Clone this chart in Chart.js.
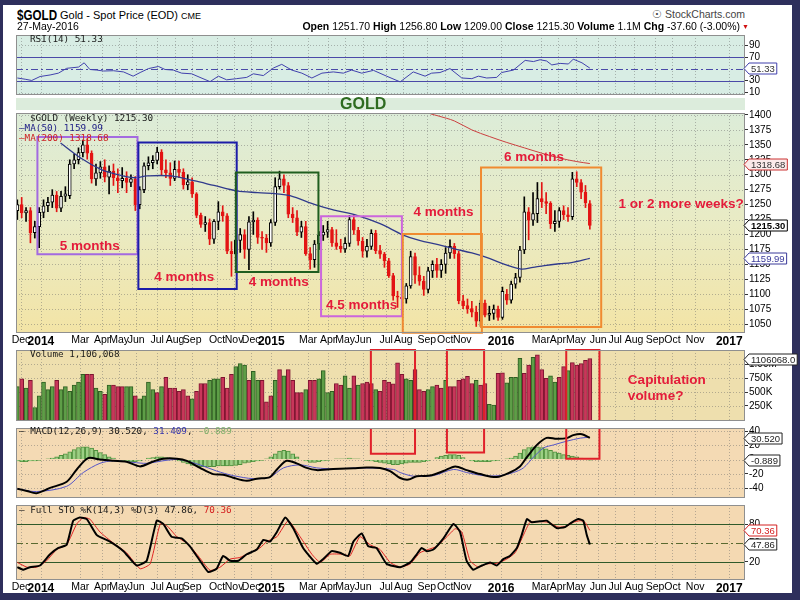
<!DOCTYPE html>
<html>
<head>
<meta charset="utf-8">
<script src="https://cdn.jsdelivr.net/npm/chart.js@4.4.1/dist/chart.umd.min.js"></script>
<style>
  html, body { margin: 0; padding: 0; }
  body { width: 800px; height: 600px; position: relative; overflow: hidden; background: #2e2f5c; font-family: "Liberation Sans", Arial, sans-serif; color: #000; }
  #sheet { position: absolute; left: 3px; top: 5px; width: 789px; height: 588px; background: #fff; }
  canvas { position: absolute; left: 0; }
  .t { position: absolute; white-space: nowrap; line-height: 1; }
  .leg { position: absolute; white-space: nowrap; line-height: 1; font-family: "DejaVu Sans Mono", monospace; font-size: 9.3px; color: #1a1a1a; }
</style>
</head>
<body>
<div id="sheet"></div>
<div style="position:absolute;left:16px;top:98px;width:729px;height:12px;background:#dcecdc"></div>

<canvas id="rsiChart"></canvas>
<canvas id="priceChart"></canvas>
<canvas id="volChart"></canvas>
<canvas id="macdChart"></canvas>
<canvas id="stoChart"></canvas>

<!-- 头部信息 -->
<div class="t" style="left:17px;top:8px;font-size:14px;font-weight:bold;transform:scaleX(0.83);transform-origin:left top">$GOLD</div>
<div class="t" style="left:60px;top:10px;font-size:11px">Gold - Spot Price (EOD) <span style="font-size:9px">CME</span></div>
<div class="t" style="left:17px;top:21px;font-size:10.5px">27-May-2016</div>
<div class="t" style="right:55px;top:9px;font-size:10.5px;color:#444">&#9737; StockCharts.com</div>
<div class="t" style="right:60px;top:21px;font-size:10.5px"><b>Open</b> 1251.70 <b>High</b> 1256.80 <b>Low</b> 1209.00 <b>Close</b> 1215.30 <b>Volume</b> 1.1M <b>Chg</b> -37.60 (-3.00%)</div>
<div class="t" style="left:742px;top:23px;font-size:7px;color:#d01010">&#9660;</div>
<div class="t" style="left:340px;top:96px;font-size:16px;font-weight:bold;color:#2e6b20">GOLD</div>

<!-- 面板图例 -->
<div class="leg" style="left:30px;top:34px">RSI(14) 51.33</div>
<div class="leg" style="left:30px;top:113px">$GOLD (Weekly) 1215.30</div>
<div class="leg" style="left:19px;top:123px;color:#222288">&#8212;MA(50) 1159.99</div>
<div class="leg" style="left:19px;top:133px;color:#cc2222">&#8212;MA(200) 1318.68</div>
<div class="leg" style="left:30px;top:349px">Volume 1,106,068</div>
<div class="leg" style="left:19px;top:426px">&#8212; MACD(12,26,9) 30.520, <span style="color:#3333aa">31.409</span>, <span style="color:#7fae6a">-0.889</span></div>
<div class="leg" style="left:19px;top:505px">&#8212; Full STO %K(14,3) %D(3) 47.86, <span style="color:#d42020">70.36</span></div>

<script>
// x轴刻度（周序号，0 = 2013-11-22）
const tickLabels = ["Dec", "2014", "Mar", "Apr", "May", "Jun", "Jul", "Aug", "Sep", "Oct", "Nov", "Dec", "2015", "Mar", "Apr", "May", "Jun", "Jul", "Aug", "Sep", "Oct", "Nov", "2016", "Mar", "Apr", "May", "Jun", "Jul", "Aug", "Sep", "Oct", "Nov", "2017"];
const tickWeeks = [0.85, 5.4, 14.4, 19.4, 23.3, 27.2, 32, 36.1, 40, 45.7, 49.6, 53.5, 58.1, 66.5, 71.1, 75, 79.1, 84.4, 88.3, 93.7, 97.9, 101.8, 110.7, 119.8, 123.7, 127.8, 132.9, 136.8, 141.1, 145.9, 149.9, 155.1, 162.9];

// 周K线
const opens = [1240, 1250, 1236, 1240, 1203, 1213, 1237, 1248, 1254, 1266, 1244, 1264, 1265, 1318, 1325, 1337, 1350, 1336, 1293, 1303, 1313, 1296, 1306, 1295, 1290, 1294, 1287, 1293, 1250, 1275, 1315, 1320, 1324, 1338, 1308, 1303, 1294, 1309, 1304, 1283, 1288, 1268, 1232, 1217, 1220, 1192, 1222, 1238, 1231, 1172, 1168, 1190, 1200, 1175, 1221, 1224, 1195, 1194, 1186, 1220, 1280, 1293, 1282, 1234, 1228, 1204, 1213, 1168, 1158, 1184, 1199, 1204, 1208, 1186, 1180, 1176, 1185, 1225, 1207, 1189, 1172, 1180, 1202, 1173, 1167, 1156, 1131, 1097, 1095, 1092, 1114, 1163, 1132, 1122, 1108, 1139, 1150, 1140, 1150, 1169, 1180, 1168, 1089, 1081, 1076, 1070, 1055, 1085, 1065, 1068, 1075, 1061, 1100, 1090, 1117, 1128, 1174, 1238, 1224, 1235, 1260, 1255, 1252, 1218, 1222, 1240, 1233, 1230, 1293, 1287, 1271, 1251.7];
const highs = [1258, 1262, 1245, 1245, 1222, 1245, 1258, 1262, 1275, 1272, 1272, 1280, 1325, 1335, 1345, 1358, 1360, 1340, 1318, 1322, 1325, 1315, 1318, 1310, 1312, 1305, 1300, 1297, 1280, 1320, 1330, 1332, 1346, 1342, 1325, 1320, 1323, 1323, 1310, 1300, 1295, 1270, 1236, 1230, 1226, 1225, 1255, 1248, 1235, 1188, 1196, 1210, 1208, 1230, 1238, 1228, 1205, 1200, 1225, 1295, 1306, 1300, 1287, 1245, 1240, 1222, 1222, 1178, 1190, 1205, 1215, 1222, 1212, 1208, 1192, 1195, 1232, 1232, 1212, 1195, 1192, 1208, 1207, 1182, 1170, 1160, 1135, 1105, 1100, 1118, 1172, 1169, 1146, 1130, 1145, 1156, 1160, 1158, 1178, 1191, 1185, 1172, 1098, 1092, 1088, 1080, 1090, 1090, 1080, 1082, 1080, 1112, 1108, 1122, 1135, 1180, 1263, 1245, 1270, 1287, 1287, 1270, 1255, 1240, 1245, 1248, 1245, 1304, 1305, 1292, 1282, 1256.8];
const lows = [1225, 1228, 1222, 1186, 1194, 1178, 1228, 1238, 1245, 1238, 1238, 1255, 1260, 1310, 1318, 1330, 1326, 1286, 1282, 1294, 1288, 1268, 1282, 1270, 1278, 1270, 1280, 1240, 1243, 1270, 1308, 1310, 1318, 1300, 1295, 1282, 1290, 1295, 1276, 1275, 1262, 1228, 1212, 1205, 1183, 1185, 1208, 1222, 1168, 1130, 1150, 1170, 1160, 1141, 1200, 1185, 1175, 1170, 1180, 1215, 1276, 1270, 1228, 1220, 1198, 1195, 1165, 1142, 1145, 1175, 1190, 1195, 1180, 1175, 1170, 1170, 1180, 1200, 1182, 1162, 1162, 1175, 1168, 1160, 1145, 1128, 1090, 1078, 1077, 1085, 1110, 1118, 1115, 1098, 1102, 1128, 1128, 1128, 1135, 1160, 1160, 1084, 1076, 1068, 1062, 1046, 1046, 1062, 1056, 1058, 1056, 1058, 1083, 1085, 1110, 1120, 1168, 1191, 1215, 1220, 1245, 1235, 1210, 1205, 1212, 1225, 1222, 1225, 1280, 1260, 1245, 1209];
const closes = [1250, 1236, 1240, 1203, 1213, 1237, 1248, 1254, 1266, 1244, 1264, 1268, 1318, 1325, 1337, 1350, 1336, 1293, 1303, 1313, 1296, 1306, 1295, 1290, 1294, 1287, 1293, 1250, 1275, 1315, 1320, 1324, 1338, 1308, 1303, 1294, 1309, 1304, 1283, 1288, 1268, 1232, 1217, 1220, 1192, 1222, 1238, 1231, 1172, 1168, 1190, 1200, 1175, 1221, 1224, 1195, 1194, 1186, 1220, 1280, 1293, 1282, 1234, 1228, 1204, 1213, 1168, 1158, 1184, 1199, 1204, 1208, 1186, 1180, 1176, 1185, 1225, 1207, 1189, 1172, 1180, 1202, 1173, 1167, 1156, 1131, 1097, 1095, 1092, 1114, 1163, 1132, 1122, 1108, 1139, 1150, 1140, 1150, 1169, 1180, 1168, 1089, 1081, 1076, 1070, 1055, 1085, 1065, 1068, 1075, 1061, 1105, 1090, 1117, 1128, 1174, 1238, 1224, 1235, 1260, 1255, 1252, 1218, 1222, 1240, 1233, 1230, 1293, 1287, 1271, 1253, 1215.3];

// 移动平均线
const ma50Weeks = [9.9, 14.5, 19.1, 22.1, 26.7, 29.7, 35.1, 40.4, 45, 50.2, 55, 59.4, 62.4, 68.5, 73, 77.7, 83, 88.3, 92, 96.3, 100, 104, 108, 111.5, 115.3, 118, 120.6, 124, 126.8, 131];
const ma50Values = [1353, 1328, 1309, 1302, 1295, 1298, 1298, 1290, 1282, 1273, 1270, 1268, 1265, 1249, 1240, 1232, 1218, 1199, 1190, 1183, 1176, 1169, 1160, 1150, 1142, 1145, 1148, 1151, 1153, 1159.99];
const ma200Weeks = [94.5, 96.5, 100, 104, 108, 112, 116, 120, 124, 128, 131];
const ma200Values = [1402, 1398, 1390, 1375, 1364, 1354, 1345, 1336, 1328, 1322, 1318.68];

// 成交量 (g = 上涨, r = 下跌)
const volumes = [600000, 740000, 573000, 712000, 223000, 433000, 683000, 545000, 600000, 712000, 545000, 600000, 517000, 628000, 683000, 823000, 823000, 823000, 573000, 517000, 462000, 628000, 628000, 600000, 600000, 600000, 600000, 433000, 378000, 433000, 683000, 545000, 490000, 600000, 767000, 573000, 573000, 517000, 545000, 433000, 378000, 517000, 657000, 657000, 712000, 740000, 740000, 767000, 573000, 823000, 962000, 1017000, 990000, 712000, 878000, 712000, 712000, 323000, 433000, 712000, 907000, 795000, 907000, 712000, 490000, 490000, 545000, 712000, 712000, 740000, 890000, 490000, 517000, 657000, 628000, 795000, 573000, 795000, 628000, 657000, 683000, 657000, 545000, 517000, 712000, 683000, 650000, 1028000, 823000, 740000, 712000, 907000, 545000, 517000, 545000, 600000, 628000, 573000, 712000, 600000, 600000, 712000, 740000, 785000, 657000, 712000, 628000, 657000, 278000, 267000, 840000, 850000, 667000, 767000, 767000, 1112000, 840000, 990000, 1128000, 1173000, 907000, 751000, 795000, 683000, 767000, 962000, 890000, 1034000, 990000, 1017000, 1073000, 1106068];
const volumeDirs = ("grgrgggggr" + "ggggggrrgg" + "rgrrrggrgg" + "ggrgrrrrrr" + "grrrgggrrr" + "gggrggrrrg" + "rgrrrrgrrg" + "gggrrggrgr" + "rrgrrrrrrg" + "grrrggrrgr" + "rrrrrgrrgg" + "rrggggrrgr" + "rrggrrgrrr" + "rr").split("");

// RSI(14)
const rsiWeeks = [0, 1.8, 3.3, 5.2, 7.5, 9.4, 11.3, 14, 15.3, 16.6, 18.2, 19.7, 22, 24.3, 26.5, 28.1, 30, 32.3, 33.8, 35.7, 37.6, 39.9, 41.8, 44.1, 46, 47.9, 50.2, 52.5, 54, 56.3, 58.6, 60.5, 62.8, 65.1, 67.4, 69.7, 72.3, 74.6, 76.5, 78.8, 81.5, 84.5, 87.6, 90.6, 93.3, 94.8, 96.7, 99, 101.7, 104, 105.5, 107.4, 109.7, 110.8, 113.5, 116.2, 118.1, 119.6, 121.1, 122.3, 124.2, 126.1, 127.2, 129.2, 131];
const rsiValues = [34.6, 32.5, 30.4, 37.1, 39.7, 42.8, 51, 53.1, 60.3, 49, 48, 46.4, 46.9, 44.9, 37.7, 43.8, 50.5, 54.1, 49, 48, 42.8, 41.7, 35.6, 28.4, 37.7, 31.5, 33.5, 35.6, 41.7, 38.7, 51.5, 57.7, 48, 42.8, 34.6, 42.8, 44.9, 42.8, 48, 42.8, 47.5, 37.7, 28, 44.9, 37.7, 42.8, 43.8, 50.5, 34.6, 33.5, 37.7, 34.6, 35.6, 43.8, 48, 64.4, 62.4, 65.5, 63.4, 56.7, 59.3, 58.3, 66.5, 60.3, 51.33];

// MACD(12,26,9)
const macdWeeks = [0, 2.2, 4.4, 7.5, 11.3, 13.6, 16.2, 18.9, 22, 25, 28.1, 31.1, 33.4, 36.5, 38.8, 41.8, 44.8, 47.1, 49.4, 52.5, 54.8, 57.8, 59.4, 61.6, 63.9, 66.2, 68.5, 70.8, 73.8, 76.9, 79.9, 83, 85.3, 87.6, 89.5, 91.4, 94.4, 97.5, 100.2, 102.8, 105.9, 109.7, 112.7, 115, 116.6, 118.9, 121.1, 123.4, 125.7, 127.2, 129.2, 131];
const macdValues = [-40.9, -43.9, -47, -39.6, -31, -13.8, 2.1, 0, -1.7, -3.1, -9.5, -2.6, 1.3, 1.3, -1.7, -11.6, -20.3, -21.1, -25.4, -29.7, -26.7, -24.5, -13.8, -1.7, -5.2, -11.6, -14.7, -13.8, -12.9, -12.1, -11.2, -11.6, -16, -25.8, -28, -23.2, -22.4, -16, -9.5, -14.7, -20.3, -24.5, -18.1, -9.5, 3.4, 20.6, 30.5, 29.2, 30.1, 34.3, 35.6, 30.52];
const signalWeeks = [0, 4.4, 11.3, 15.1, 18.9, 22, 26.5, 29.6, 34.2, 37.2, 41.8, 45.6, 49.4, 54, 57.8, 60.9, 64.7, 68.5, 72.3, 79.9, 86.1, 87.6, 90.6, 95.2, 99.8, 102.8, 106.6, 110.4, 113.5, 115.8, 118.1, 120.4, 122.7, 125.7, 128.8, 131];
const signalValues = [-40.9, -44.8, -37.4, -18.1, -5.2, -1.7, -3.9, -5.2, -0.9, 0, -7.4, -16, -22.4, -26.7, -24.5, -11.6, -7.4, -11.6, -12.9, -11.6, -13.8, -18.1, -23.2, -22.4, -13.8, -18.1, -22.4, -22.4, -18.1, -11.6, 3.4, 16.3, 20.6, 25.8, 30.1, 31.409];
const histValues = [-2, -3, -3, -2, -2, -1, 0, 1, 2, 4, 6, 8, 11, 14, 17, 18, 18, 16, 13, 10, 7, 4, 2, 0, -1, -2, -3, -3, -2, 0, 2, 3, 4, 4, 3, 2, 0, -2, -4, -6, -8, -9, -10, -10, -10, -10, -9, -9, -9, -9, -8, -7, -5, -4, -3, -2, -1, 1, 4, 8, 12, 13, 12, 8, 4, 0, -2, -4, -4, -3, -2, -1, 0, 1, 1, 1, 2, 1, 1, 0, -1, -2, -3, -4, -5, -6, -7, -7, -6, -5, -4, -4, -4, -3, -2, 0, 3, 5, 6, 7, 7, 6, 3, 0, -2, -3, -3, -3, -3, -2, -1, 0, 1, 2, 5, 9, 14, 17, 18, 18, 17, 15, 13, 11, 9, 7, 6, 5, 4, 2, 1, -0.889];

// Full STO
const stoKWeeks = [0, 1.4, 2.9, 5.2, 7.5, 9.4, 11.3, 12.8, 14.3, 15.9, 18.2, 21.2, 24.3, 27.3, 29.6, 31.9, 33.4, 35.3, 37.6, 39.5, 41.8, 43.7, 45.6, 47.1, 48.7, 50.6, 52.5, 54.8, 56.3, 57.8, 59.4, 61.3, 63.2, 65.4, 68.5, 70, 71.9, 73.8, 75.7, 76.9, 78.8, 80.3, 82.2, 84.5, 87.6, 89.9, 91.4, 92.5, 93.7, 95.2, 97.5, 99.8, 101.3, 102.8, 104.3, 106.3, 108.2, 109.7, 111.2, 112.7, 114.3, 115.4, 116.6, 117.7, 119.6, 121.1, 123.4, 125.3, 126.9, 128.4, 129.5, 130.3, 131];
const stoKValues = [11.5, 7.5, 11.5, 14.2, 32.2, 42.3, 47.5, 86, 91, 88.5, 62.9, 52.6, 37.2, 14.2, 21.8, 86, 80.8, 60.3, 57.7, 44.9, 21.8, 3.8, 9, 29.5, 21.8, 21.8, 32.2, 39.8, 55.2, 52.6, 68, 91, 73.1, 42.3, 16.8, 24.5, 37.2, 34.6, 29.5, 52.6, 65.4, 44.9, 42.3, 16.8, 11.5, 19.2, 32.2, 42.3, 37.2, 39.8, 57.7, 80.8, 68, 21.8, 7.5, 14.2, 19.2, 14.2, 24.5, 29.5, 42.3, 62.9, 88.5, 83.4, 84.9, 86, 74.2, 75.7, 83.4, 88.5, 86, 62.9, 47.86];
const stoDWeeks = [0, 2.2, 4.4, 6.7, 9, 11.3, 13.6, 15.1, 16.6, 18.9, 22, 25, 28.1, 30.4, 32.7, 34.2, 36.5, 38.8, 41.1, 44.1, 46.4, 48.7, 50.9, 53.2, 55.5, 57.1, 59.4, 62, 64.7, 67.4, 69.3, 71.6, 74.6, 76.1, 78.4, 80.7, 83, 85.3, 87.6, 89.9, 92.1, 94, 96, 98.3, 100.2, 101.7, 103.6, 105.5, 107.4, 109.7, 112, 113.9, 115.8, 117.3, 119.6, 121.5, 123.8, 125.7, 127.2, 128.8, 129.9, 131];
const stoDValues = [19.2, 11.5, 11.5, 21.8, 39.8, 47.5, 80.8, 91, 88.5, 68, 50, 34.6, 9, 16.8, 80.8, 78.2, 60.3, 50, 32.2, 6.4, 11.5, 24.5, 27, 34.6, 42.3, 52.6, 60.3, 86, 60.3, 32.2, 19.2, 32.2, 32.2, 29.5, 60.3, 47.5, 39.8, 19.2, 11.5, 16.8, 34.6, 39.8, 44.9, 60.3, 73.1, 68, 21.8, 11.5, 16.8, 17.7, 24.5, 34.6, 62.9, 83.4, 84.5, 83.4, 75.7, 77.2, 83.4, 86, 83.4, 70.36];

// y轴刻度
const priceTicks = [1050, 1075, 1100, 1125, 1150, 1175, 1200, 1225, 1250, 1275, 1300, 1325, 1350, 1375, 1400];
const rsiTicks = [10, 30, 50, 70, 90];
const volTicks = [250000, 500000, 750000, 1000000];
const macdTicks = [-40, -20, 0, 20, 40];
const stoTicks = [20, 50, 80];

const X_MIN = -0.3, X_MAX = 166.5;
const FONT = '"Liberation Sans", Arial, sans-serif';
Chart.defaults.font.family = FONT;
Chart.defaults.color = "#000";

const pts = (xs, ys) => xs.map((x, k) => ({ x: x, y: ys[k] }));

// 画布定位
function setupCanvas(id, top, bottom, labels) {
  const c = document.getElementById(id);
  const h = bottom - top + 8 + (labels ? 14 : 0);
  c.width = 800;
  c.height = h;
  c.style.top = (top - 4) + "px";
  c.style.width = "800px";
  c.style.height = h + "px";
  return c;
}

function xScale(labels) {
  return {
    type: "linear", position: "bottom", min: X_MIN, max: X_MAX, offset: false,
    afterBuildTicks: (s) => { s.ticks = tickWeeks.map((v) => ({ value: v })); },
    afterFit: (s) => { s.height = labels ? 14 : 0; },
    grid: { display: false, drawTicks: false, offset: false },
    border: { display: false },
    ticks: {
      display: labels, autoSkip: false, maxRotation: 0, minRotation: 0, padding: 1, color: "#000",
      callback: (v, k) => tickLabels[k],
      font: (c) => /^\d{4}$/.test(tickLabels[c.index] || "") ? { size: 12, weight: "bold" } : { size: 10.5 },
    },
  };
}

function yScale(min, max, ticks, fmt) {
  return {
    type: "linear", position: "right", min: min, max: max,
    afterBuildTicks: (s) => { s.ticks = ticks.map((v) => ({ value: v })); },
    afterFit: (s) => { s.width = 51; },
    grid: { display: true, drawOnChartArea: false, drawTicks: true, tickLength: 3, tickColor: "#333", tickWidth: 1 },
    border: { display: false },
    ticks: { autoSkip: false, padding: 1, font: { size: 10 }, color: "#000", callback: fmt || ((v) => String(v)) },
  };
}

// 面板背景、网格、框、注释、数值标签
function overlay(cfg) {
  return {
    id: "overlay",
    beforeDatasetsDraw(chart) {
      const { ctx, chartArea: a, scales } = chart;
      ctx.save();
      let fill = cfg.bg;
      if (Array.isArray(cfg.bg)) {
        const g = ctx.createLinearGradient(0, a.top, 0, a.bottom);
        cfg.bg.forEach((c, k) => g.addColorStop(k / (cfg.bg.length - 1), c));
        fill = g;
      }
      ctx.fillStyle = fill;
      ctx.fillRect(a.left, a.top, a.width, a.height);
      ctx.strokeStyle = "rgba(105,105,105,0.45)";
      ctx.lineWidth = 1;
      ctx.setLineDash([1, 2]);
      ctx.beginPath();
      tickWeeks.forEach((w) => {
        const x = Math.round(scales.x.getPixelForValue(w)) + 0.5;
        ctx.moveTo(x, a.top); ctx.lineTo(x, a.bottom);
      });
      (cfg.grid || []).forEach((v) => {
        const y = Math.round(scales.y.getPixelForValue(v)) + 0.5;
        ctx.moveTo(a.left, y); ctx.lineTo(a.right, y);
      });
      ctx.stroke();
      (cfg.levels || []).forEach((l) => {
        const y = Math.round(scales.y.getPixelForValue(l.value)) + 0.5;
        ctx.setLineDash(l.dash || []);
        ctx.strokeStyle = l.color;
        ctx.lineWidth = l.width || 1;
        ctx.beginPath(); ctx.moveTo(a.left, y); ctx.lineTo(a.right, y); ctx.stroke();
      });
      ctx.restore();
    },
    afterDatasetsDraw(chart) {
      const { ctx, scales } = chart;
      ctx.save();
      (cfg.boxes || []).forEach((b) => {
        const x0 = scales.x.getPixelForValue(b.x0), x1 = scales.x.getPixelForValue(b.x1);
        const yb = scales.y.getPixelForValue(b.y0), yt = scales.y.getPixelForValue(b.y1);
        ctx.strokeStyle = b.color;
        ctx.lineWidth = 2;
        ctx.beginPath();
        if (b.open === "bottom") { ctx.moveTo(x0, yb); ctx.lineTo(x0, yt); ctx.lineTo(x1, yt); ctx.lineTo(x1, yb); }
        else if (b.open === "top") { ctx.moveTo(x0, yt); ctx.lineTo(x0, yb); ctx.lineTo(x1, yb); ctx.lineTo(x1, yt); }
        else { ctx.rect(x0, yt, x1 - x0, yb - yt); }
        ctx.stroke();
      });
      (cfg.notes || []).forEach((n) => {
        ctx.font = "bold 13.5px " + FONT;
        ctx.fillStyle = "#e41b3a";
        ctx.textAlign = n.align || "center";
        ctx.textBaseline = "middle";
        ctx.fillText(n.text, scales.x.getPixelForValue(n.x), scales.y.getPixelForValue(n.y));
      });
      ctx.restore();
    },
    afterDraw(chart) {
      const { ctx, chartArea: a, scales } = chart;
      ctx.save();
      ctx.strokeStyle = "#8f8f8f";
      ctx.lineWidth = 1;
      ctx.strokeRect(a.left + 0.5, a.top + 0.5, a.width - 1, a.height - 1);
      (cfg.tags || []).forEach((t) => {
        const y = Math.round(scales.y.getPixelForValue(t.value)) + 0.5;
        ctx.font = (t.bold ? "bold " : "") + "9.5px " + FONT;
        const w = ctx.measureText(t.text).width + 4;
        const x0 = a.right - 1, h = 11;
        ctx.beginPath();
        ctx.moveTo(x0, y);
        ctx.lineTo(x0 + 5, y - h / 2);
        ctx.lineTo(x0 + 5 + w, y - h / 2);
        ctx.lineTo(x0 + 5 + w, y + h / 2);
        ctx.lineTo(x0 + 5, y + h / 2);
        ctx.closePath();
        ctx.fillStyle = t.fill || "#fff";
        ctx.fill();
        ctx.strokeStyle = t.color;
        ctx.stroke();
        ctx.fillStyle = t.textColor || t.color;
        ctx.textAlign = "left";
        ctx.textBaseline = "middle";
        ctx.fillText(t.text, x0 + 7, y + 0.5);
      });
      ctx.restore();
    },
  };
}

const baseOptions = (labels, y) => ({
  responsive: false, devicePixelRatio: 1, animation: false,
  layout: { padding: { left: 16, right: 4, top: 4, bottom: 4 } },
  plugins: { legend: { display: false }, tooltip: { enabled: false } },
  scales: { x: xScale(labels), y: y },
});

const lineDs = (data, color, width, tension) => ({
  type: "line", data: data, borderColor: color, borderWidth: width, pointRadius: 0, fill: false, tension: tension || 0,
});

// RSI 面板
new Chart(setupCanvas("rsiChart", 32, 98, false), {
  type: "line",
  data: { datasets: [lineDs(pts(rsiWeeks, rsiValues), "#4141ad", 1, 0)] },
  options: baseOptions(false, yScale(5.8, 107.4, rsiTicks)),
  plugins: [overlay({
    bg: "#d8ede4", grid: [10, 90],
    levels: [{ value: 70, color: "#4a4aa8" }, { value: 30, color: "#4a4aa8" }, { value: 50, color: "#4a4aa8", dash: [7, 3, 2, 3] }],
    tags: [{ value: 51.33, text: "51.33", color: "#4141ad", textColor: "#333" }],
  })],
});

// 价格面板（K线 + 均线）
const isUp = closes.map((c, i) => c >= opens[i]);
const bodyData = closes.map((c, i) => {
  let lo = Math.min(opens[i], c), hi = Math.max(opens[i], c);
  if (hi - lo < 1.5) { const m = (hi + lo) / 2; lo = m - 0.75; hi = m + 0.75; }
  return { x: i, y: [lo, hi] };
});
const wickData = closes.map((c, i) => ({ x: i, y: [lows[i], highs[i]] }));
const candleRed = "#e31414";

new Chart(setupCanvas("priceChart", 110, 333, true), {
  type: "bar",
  data: {
    datasets: [
      lineDs(pts(ma50Weeks, ma50Values), "#303a8c", 1.3, 0.35),
      lineDs(pts(ma200Weeks, ma200Values), "#cc4040", 1, 0.35),
      {
        data: bodyData, grouped: false, barThickness: 3, borderWidth: 1, borderSkipped: false,
        backgroundColor: isUp.map((u) => (u ? "#ffffff" : candleRed)),
        borderColor: isUp.map((u) => (u ? "#000000" : candleRed)),
      },
      {
        data: wickData, grouped: false, barThickness: 1, borderWidth: 0,
        backgroundColor: isUp.map((u) => (u ? "#000000" : candleRed)),
      },
    ],
  },
  options: baseOptions(true, yScale(1035.1, 1403.3, priceTicks)),
  plugins: [overlay({
    bg: ["#dcecd8", "#e9ebc4", "#f3e4a6"], grid: priceTicks,
    boxes: [
      { x0: 4.6, x1: 27.5, y0: 1166.7, y1: 1363.2, color: "#a36ae0" },
      { x0: 27.7, x1: 50.2, y0: 1108.9, y1: 1353.8, color: "#1c1ca8" },
      { x0: 50, x1: 68.9, y0: 1137, y1: 1303.7, color: "#1f5e1f" },
      { x0: 69.5, x1: 88, y0: 1063.2, y1: 1230.4, color: "#cc66dd" },
      { x0: 88.2, x1: 106.3, y0: 1035.6, y1: 1200.7, color: "#f08a30" },
      { x0: 106.1, x1: 133.6, y0: 1045, y1: 1312, color: "#f08a30" },
    ],
    notes: [
      { x: 16.6, y: 1181, text: "5 months" },
      { x: 38.2, y: 1128, text: "4 months" },
      { x: 59.8, y: 1120.5, text: "4 months" },
      { x: 78.8, y: 1080.9, text: "4.5 months" },
      { x: 97.5, y: 1237.7, text: "4 months" },
      { x: 118.2, y: 1328.5, text: "6 months" },
      { x: 151.9, y: 1250.3, text: "1 or 2 more weeks?" },
    ],
    tags: [
      { value: 1318.68, text: "1318.68", color: "#cc3333", textColor: "#333", fill: "#fbeaea" },
      { value: 1215.3, text: "1215.30", color: "#000", bold: true },
      { value: 1159.99, text: "1159.99", color: "#3a3a9a" },
    ],
  })],
});

// 成交量面板
const VOL_MIN = -21700, VOL_MAX = 1262000;
new Chart(setupCanvas("volChart", 347, 424, false), {
  type: "bar",
  data: {
    datasets: [{
      data: volumes.map((v, i) => ({ x: i, y: v })), base: VOL_MIN, grouped: false, barThickness: 4, borderWidth: 1,
      backgroundColor: volumeDirs.map((d) => (d === "g" ? "#5e9e47" : "#c9365a")),
      borderColor: volumeDirs.map((d) => (d === "g" ? "#2f5f22" : "#7d1530")),
    }],
  },
  options: baseOptions(false, yScale(VOL_MIN, VOL_MAX, volTicks, (v) => (v >= 1e6 ? (v / 1e6).toFixed(2) + "M" : v / 1000 + "K"))),
  plugins: [overlay({
    bg: "#eedfae", grid: volTicks,
    boxes: [
      { x0: 80.9, x1: 91, y0: VOL_MIN, y1: VOL_MAX, color: "#e0202a", open: "bottom" },
      { x0: 98.3, x1: 106.8, y0: VOL_MIN, y1: VOL_MAX, color: "#e0202a", open: "bottom" },
      { x0: 125.6, x1: 133.2, y0: VOL_MIN, y1: VOL_MAX, color: "#e0202a", open: "bottom" },
    ],
    notes: [
      { x: 139.7, y: 712000, text: "Capitulation", align: "left" },
      { x: 139.7, y: 433000, text: "volume?", align: "left" },
    ],
    tags: [{ value: 1106068, text: "1106068.0", color: "#222" }],
  })],
});

// MACD 面板
const MACD_MIN = -53.8, MACD_MAX = 44.3;
new Chart(setupCanvas("macdChart", 425, 501, false), {
  type: "bar",
  data: {
    datasets: [
      lineDs(pts(macdWeeks, macdValues), "#000000", 2, 0.3),
      lineDs(pts(signalWeeks, signalValues), "#5555c8", 1, 0.3),
      {
        data: histValues.map((v, i) => ({ x: i, y: v })), grouped: false, barThickness: 4, borderWidth: 1,
        backgroundColor: "#9ccf84", borderColor: "#4e8f3c",
      },
    ],
  },
  options: baseOptions(false, yScale(MACD_MIN, MACD_MAX, macdTicks)),
  plugins: [overlay({
    bg: "#f4dab4", grid: macdTicks,
    boxes: [
      { x0: 80.9, x1: 91, y0: 8.1, y1: MACD_MAX, color: "#e0202a", open: "top" },
      { x0: 98.3, x1: 106.8, y0: 9.8, y1: MACD_MAX, color: "#e0202a", open: "top" },
      { x0: 125.6, x1: 133.2, y0: 1.3, y1: MACD_MAX, color: "#e0202a", open: "top" },
    ],
    tags: [
      { value: 30.52, text: "30.520", color: "#222" },
      { value: -0.889, text: "-0.889", color: "#222" },
    ],
  })],
});

// Full STO 面板
new Chart(setupCanvas("stoChart", 502, 580, true), {
  type: "line",
  data: {
    datasets: [
      lineDs(pts(stoKWeeks, stoKValues), "#000000", 2, 0.15),
      lineDs(pts(stoDWeeks, stoDValues), "#e02424", 1, 0.15),
    ],
  },
  options: baseOptions(true, yScale(-9, 111.1, stoTicks)),
  plugins: [overlay({
    bg: "#f4d9b2",
    levels: [{ value: 80, color: "#2f5a2a" }, { value: 20, color: "#2f5a2a" }, { value: 50, color: "#5a6a30", dash: [7, 3, 2, 3] }],
    tags: [
      { value: 70.36, text: "70.36", color: "#d42020" },
      { value: 47.86, text: "47.86", color: "#222" },
    ],
  })],
});
</script>
</body>
</html>
